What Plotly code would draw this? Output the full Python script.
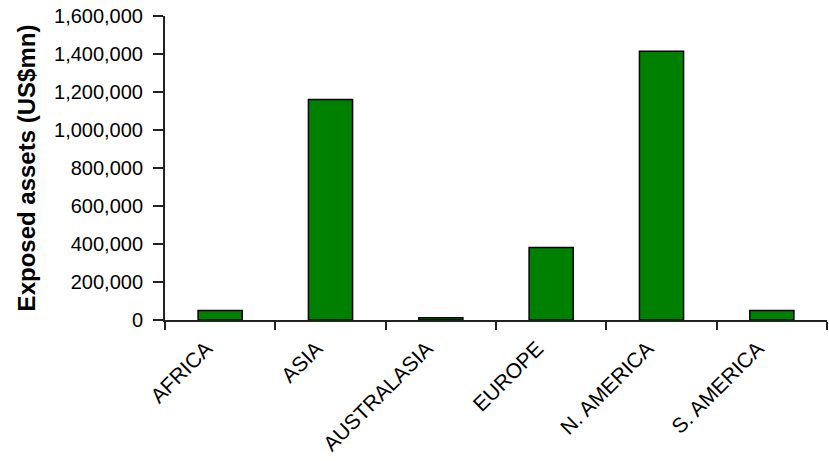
import plotly.graph_objects as go

# Exposed assets by region (US$ millions)
regions = ["AFRICA", "ASIA", "AUSTRALASIA", "EUROPE", "N. AMERICA", "S. AMERICA"]
exposed_assets = [50000, 1160000, 12000, 381000, 1415000, 50000]
y_ticks = [0, 200000, 400000, 600000, 800000, 1000000, 1200000, 1400000, 1600000]

FONT = "Arial, Liberation Sans, sans-serif"

fig = go.Figure(
    go.Bar(
        x=regions,
        y=exposed_assets,
        marker=dict(color="#008000", line=dict(color="#000000", width=1.5)),
        hoverinfo="x+y",
    )
)

fig.update_layout(
    width=829,
    height=461,
    margin=dict(l=165, r=2, t=16, b=141),
    paper_bgcolor="white",
    plot_bgcolor="white",
    bargap=0.6,
    showlegend=False,
    font=dict(family=FONT, color="#000000"),
)

fig.update_xaxes(
    type="category",
    showline=True,
    linecolor="#222222",
    linewidth=2,
    ticks="outside",
    tickson="boundaries",
    ticklen=8,
    tickwidth=2,
    tickcolor="#222222",
    tickangle=-45,
    ticklabelshift=-14,
    ticklabelstandoff=6,
    tickfont=dict(family=FONT, size=21, color="#000000"),
    showgrid=False,
    zeroline=False,
)

fig.update_yaxes(
    range=[0, 1600000],
    tickvals=y_ticks,
    tickformat=",d",
    showline=True,
    linecolor="#222222",
    linewidth=2,
    ticks="outside",
    ticklen=10,
    tickwidth=2,
    tickcolor="#222222",
    ticklabelstandoff=6,
    tickfont=dict(family=FONT, size=20, color="#000000"),
    showgrid=False,
    zeroline=False,
    title=dict(
        text="<b>Exposed assets (US$mn)</b>",
        font=dict(family=FONT, size=24, color="#000000"),
        standoff=12,
    ),
)

fig.write_html("out.html")
